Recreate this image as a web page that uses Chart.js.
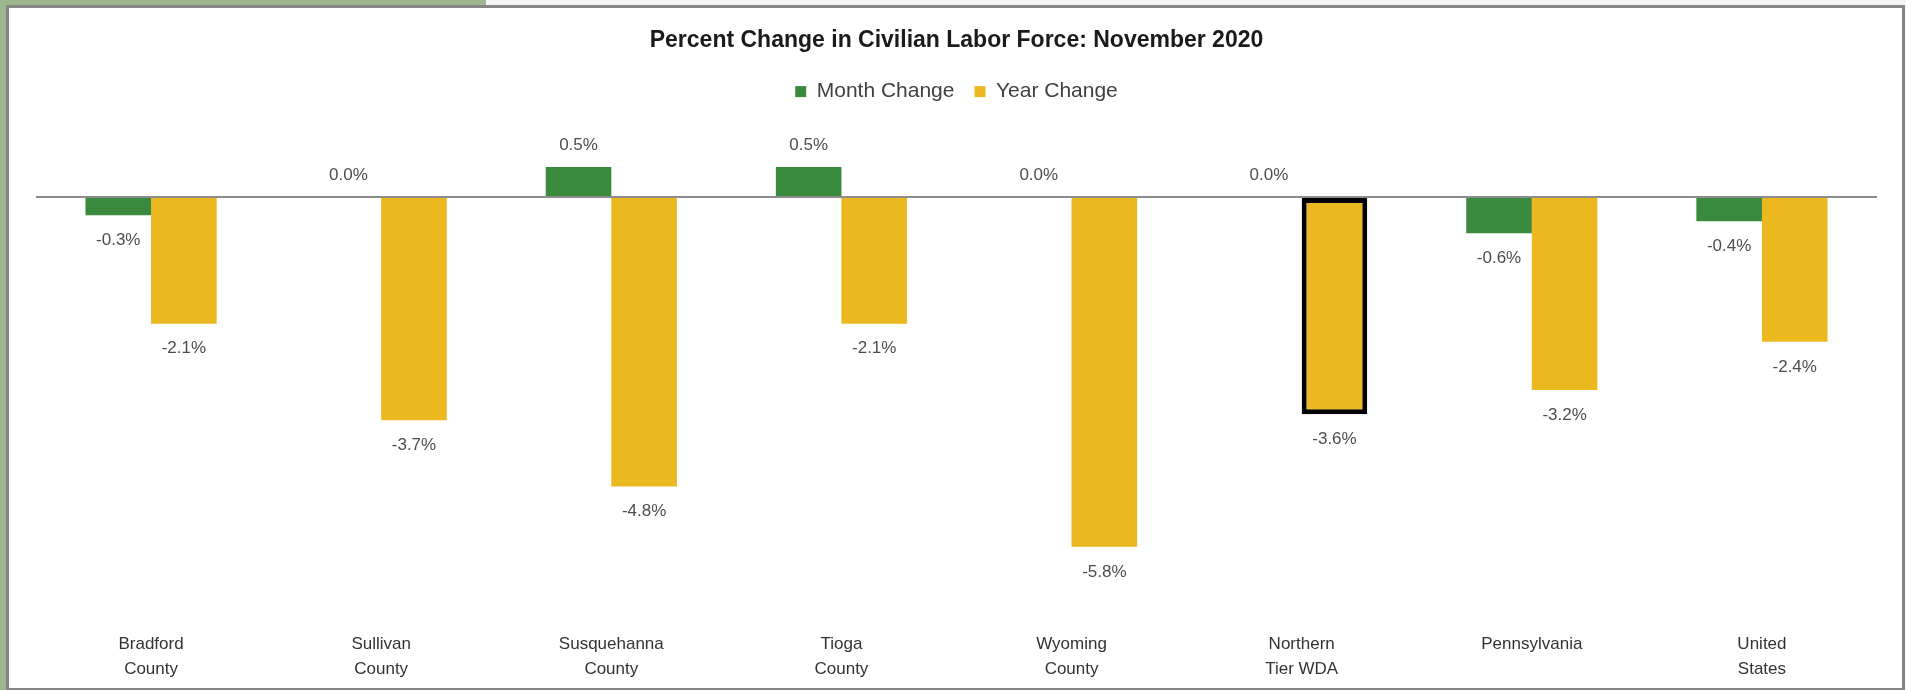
<!DOCTYPE html>
<html>
<head>
    <title>Percent Change in Civilian Labor Force: November 2020</title>
    <script src="https://cdn.jsdelivr.net/npm/chart.js"></script>
    <style>
        body { margin: 0; width: 1906px; height: 690px; background: #f4f4f4; overflow: hidden; position: relative; }
        .green-left { position: absolute; left: 0; top: 0; width: 6px; height: 690px; background: #9db68d; }
        .green-top { position: absolute; left: 0; top: 0; width: 486px; height: 5px; background: #9db68d; }
        .frame {
            position: absolute; left: 6px; top: 5px; width: 1899px; height: 685px;
            box-sizing: border-box; background: #ffffff;
            border: 3px solid #858585; border-bottom-width: 2px;
        }
        .chart-box { position: absolute; left: 0; top: 0; width: 1906px; height: 690px; }
    </style>
</head>
<body>
    <div class="green-left"></div>
    <div class="green-top"></div>
    <div class="frame"></div>
    <div class="chart-box">
        <canvas id="myChart" width="1906" height="690"></canvas>
    </div>

    <script>
        // 資料
        const regions = [
            ['Bradford', 'County'],
            ['Sullivan', 'County'],
            ['Susquehanna', 'County'],
            ['Tioga', 'County'],
            ['Wyoming', 'County'],
            ['Northern', 'Tier WDA'],
            'Pennsylvania',
            ['United', 'States']
        ];
        const monthChange = [-0.3, 0.0, 0.5, 0.5, 0.0, 0.0, -0.6, -0.4];
        const yearChange = [-2.1, -3.7, -4.8, -2.1, -5.8, -3.6, -3.2, -2.4];
        const highlightIndex = 5; // Northern Tier WDA

        const fontFamily = '"Liberation Sans", Arial, sans-serif';

        // 數值標籤
        const valueLabels = {
            id: 'valueLabels',
            afterDatasetsDraw(chart) {
                const ctx = chart.ctx;
                ctx.save();
                ctx.font = '17px ' + fontFamily;
                ctx.fillStyle = '#4d4d4d';
                ctx.textAlign = 'center';
                ctx.textBaseline = 'middle';
                chart.data.datasets.forEach((ds, i) => {
                    const meta = chart.getDatasetMeta(i);
                    meta.data.forEach((bar, j) => {
                        const v = ds.data[j];
                        const y = v >= 0 ? bar.y - 22 : bar.y + 25;
                        ctx.fillText(v.toFixed(1) + '%', bar.x, y);
                    });
                });
                ctx.restore();
            }
        };

        const ctx = document.getElementById('myChart').getContext('2d');
        const myChart = new Chart(ctx, {
            type: 'bar',
            data: {
                labels: regions,
                datasets: [{
                    label: 'Month Change',
                    data: monthChange,
                    backgroundColor: '#3a8a3e',
                    borderWidth: 0
                }, {
                    label: 'Year Change',
                    data: yearChange,
                    backgroundColor: '#ebb820',
                    borderColor: '#000000',
                    borderWidth: c => c.dataIndex === highlightIndex ? 5 : 0,
                    borderSkipped: false
                }]
            },
            options: {
                responsive: false,
                animation: false,
                categoryPercentage: 0.57,
                barPercentage: 1.0,
                layout: { padding: { left: 36, right: 29, top: 0, bottom: 8 } },
                plugins: {
                    title: {
                        display: true,
                        text: 'Percent Change in Civilian Labor Force: November 2020',
                        color: '#1a1a1a',
                        font: { family: fontFamily, size: 23, weight: 'bold' },
                        padding: { top: 26.5, bottom: 7 }
                    },
                    legend: {
                        position: 'top',
                        labels: {
                            color: '#404040',
                            font: { family: fontFamily, size: 21 },
                            boxWidth: 11,
                            boxHeight: 11,
                            padding: 20
                        }
                    },
                    tooltip: { enabled: false }
                },
                scales: {
                    x: {
                        grid: { display: false },
                        border: { display: false },
                        ticks: {
                            color: '#333333',
                            font: { family: fontFamily, size: 17, lineHeight: 1.47 },
                            padding: 0,
                            maxRotation: 0,
                            autoSkip: false
                        }
                    },
                    y: {
                        min: -7.08,
                        max: 1.41,
                        border: { display: false },
                        grid: {
                            drawTicks: false,
                            lineWidth: 2,
                            color: c => c.tick && c.tick.value === 0 ? '#8c8c8c' : 'transparent'
                        },
                        ticks: { display: false, stepSize: 1 }
                    }
                }
            },
            plugins: [valueLabels]
        });
    </script>
</body>
</html>
